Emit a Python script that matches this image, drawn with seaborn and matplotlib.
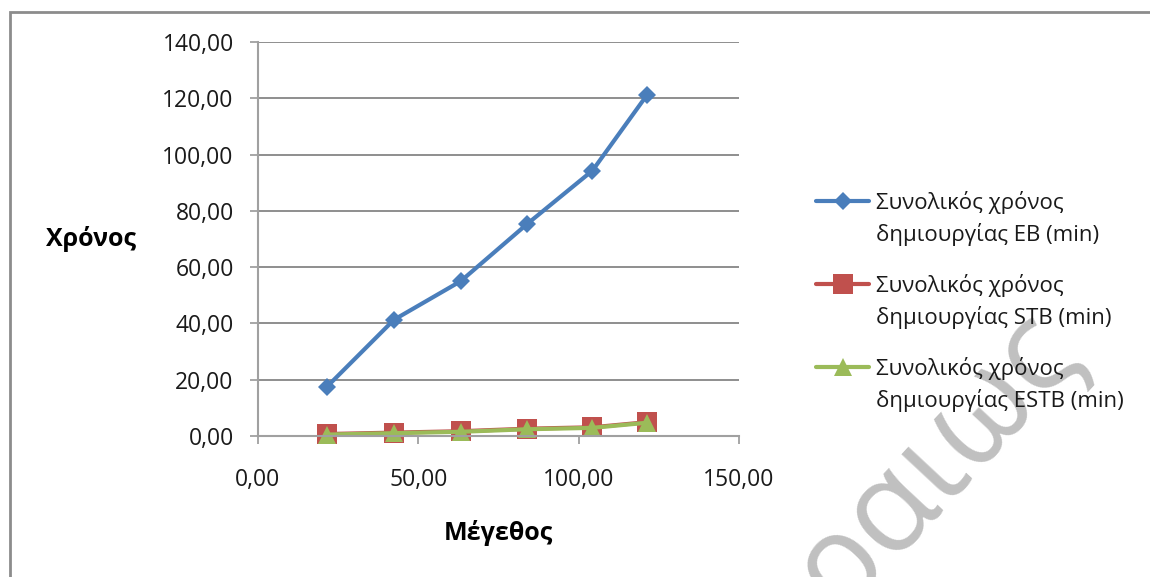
import matplotlib
matplotlib.use("Agg")
import matplotlib.pyplot as plt
from matplotlib.patches import Rectangle
from matplotlib.ticker import FuncFormatter, MultipleLocator
import seaborn as sns
import pandas as pd

# Sizes and creation times for the three index structures
size = [21.5, 42.4, 63.2, 84.0, 104.3, 121.2]
time_eb = [17.5, 41.3, 55.0, 75.4, 94.3, 121.0]
time_stb = [0.7, 1.2, 1.7, 2.6, 3.1, 4.9]
time_estb = [0.5, 1.0, 1.5, 2.4, 2.9, 4.7]

labels = [
    "Συνολικός χρόνος\nδημιουργίας EB (min)",
    "Συνολικός χρόνος\nδημιουργίας STB (min)",
    "Συνολικός χρόνος\nδημιουργίας ESTB (min)",
]
colors = ["#4A7EBB", "#C0504D", "#9BBB59"]
markers = ["D", "s", "^"]
marker_sizes = [9.5, 14.0, 13.5]

x_label = "Μέγεθος"
y_label = "Χρόνος"
watermark = "ραιως"

sns.set_theme(style="white")
plt.rcParams["font.family"] = ["Open Sans", "DejaVu Sans"]

fig = plt.figure(figsize=(11.5, 5.77), dpi=100)
ax = fig.add_axes([258 / 1150, 1 - 436 / 577, (739 - 258) / 1150, (436 - 42) / 577])

series = [time_eb, time_stb, time_estb]
for vals, lab, col, mk, ms in zip(series, labels, colors, markers, marker_sizes):
    df = pd.DataFrame({"size": size, "time": vals})
    sns.lineplot(data=df, x="size", y="time", ax=ax, color=col, linewidth=3.0,
                 marker=mk, markersize=ms, markeredgewidth=0, label=lab,
                 clip_on=False)

ax.set_xlim(0, 150)
ax.set_ylim(0, 140)
ax.xaxis.set_major_locator(MultipleLocator(50))
ax.yaxis.set_major_locator(MultipleLocator(20))
fmt = FuncFormatter(lambda v, p: f"{v:.2f}".replace(".", ","))
ax.xaxis.set_major_formatter(fmt)
ax.yaxis.set_major_formatter(fmt)

ax.grid(axis="y", color="#868686", linewidth=1.3)
ax.grid(axis="x", visible=False)
ax.set_axisbelow(True)
for side in ["top", "right"]:
    ax.spines[side].set_visible(False)
for side in ["left", "bottom"]:
    ax.spines[side].set_color("#A0A0A0")
    ax.spines[side].set_linewidth(1.5)

ax.tick_params(axis="y", direction="out", length=5.5, width=1.3, color="#A0A0A0",
               pad=12, labelsize=16.5, labelcolor="#1a1a1a", left=True)
ax.tick_params(axis="x", direction="out", length=6, width=1.3, color="#A0A0A0",
               pad=17, labelsize=16.5, labelcolor="#1a1a1a", bottom=True)

ax.set_xlabel(x_label, fontsize=18, fontweight="bold", color="#000000", labelpad=20)
ax.set_ylabel(y_label, fontsize=18, fontweight="bold", color="#000000",
              rotation=0, ha="center", va="center")
ax.yaxis.set_label_coords(-0.348, 0.5)

leg = ax.legend(loc="upper left", bbox_to_anchor=(816 / 1150, 1 - 191 / 577),
                bbox_transform=fig.transFigure, frameon=False, fontsize=16,
                handlelength=2.4, handletextpad=0.32, labelspacing=1.25,
                handleheight=1.4, borderpad=0, borderaxespad=0)
for txt in leg.get_texts():
    txt.set_linespacing(1.5)
    txt.set_color("#1a1a1a")
for column in leg._legend_handle_box.get_children():
    for item in column.get_children():
        item.align = "top"

# outer chart border
fig.add_artist(Rectangle((10 / 1150, -0.05), 1.2, 1 - 12 / 577 + 0.05,
                         transform=fig.transFigure, fill=False,
                         edgecolor="#8C8C8C", linewidth=2.0))

# repository watermark, behind the chart content
fig.text(1010 / 1150, 1 - 285 / 577, watermark, fontsize=92, color="#C0C0C0",
         rotation=47, rotation_mode="anchor", ha="right", va="top",
         zorder=-1)

fig.savefig("out.png", dpi=100)
